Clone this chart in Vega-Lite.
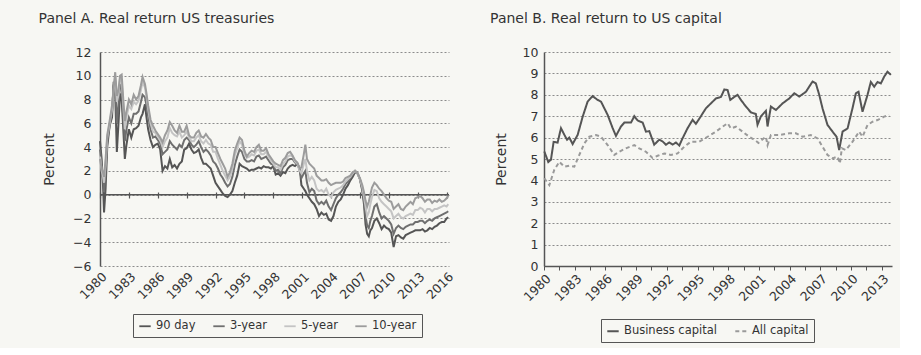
{
  "$schema": "https://vega.github.io/schema/vega-lite/v6.json",
  "background": "#f7f7f3",
  "padding": {"left": 38, "top": 12, "right": 5, "bottom": 5},
  "spacing": 34,
  "resolve": {"scale": {"color": "independent", "strokeDash": "independent"}, "legend": {"color": "independent", "strokeDash": "independent"}},
  "config": {
    "font": "DejaVu Sans",
    "view": {"stroke": null},
    "axis": {"labelFont": "DejaVu Sans", "labelFontSize": 12.5, "labelColor": "#333333", "titleFont": "DejaVu Sans", "titleFontSize": 14, "titleFontWeight": "normal", "titleColor": "#333333", "gridColor": "#8c8c8c", "gridDash": [2, 2], "gridWidth": 1, "domainColor": "#555555", "tickColor": "#555555", "labelOverlap": false},
    "legend": {"labelFont": "DejaVu Sans"},
    "title": {"font": "DejaVu Sans", "fontSize": 14, "fontWeight": "normal", "color": "#333333", "anchor": "start", "frame": "bounds", "offset": 20, "dx": -4}
  },
  "hconcat": [
    {
      "title": "Panel A. Real return US treasuries",
      "width": 349,
      "height": 214,
      "resolve": {"axis": {"x": "independent"}},
      "layer": [
        {
          "data": {"values": [{}]},
          "mark": {"type": "rule", "color": "#555555", "strokeWidth": 1.5},
          "encoding": {
            "y": {"datum": 0, "type": "quantitative", "scale": {"domain": [-6, 12], "nice": false, "zero": false},
                  "axis": {"title": "Percent", "values": [-6, -4, -2, 0, 2, 4, 6, 8, 10, 12], "labelOverlap": false, "grid": true, "ticks": false, "domain": true, "domainWidth": 1.5, "labelPadding": 9, "titlePadding": 16}},
            "x": {"datum": 1980, "type": "quantitative", "scale": {"domain": [1980, 2016.25], "nice": false, "zero": false}, "axis": {"orient": "bottom", "offset": -74, "values": [1980, 1983, 1986, 1989, 1992, 1995, 1998, 2001, 2004, 2007, 2010, 2013, 2016], "labels": false, "ticks": true, "tickSize": 6, "tickWidth": 1.2, "domain": false, "grid": false, "title": null}},
            "x2": {"datum": 2016.25}
          }
        },
        {
          "data": {"values": [
            {"t": 1980.00, "90 day": 4.5, "3-year": 3.8, "5-year": 3.2, "10-year": 3.0},
            {"t": 1980.17, "90 day": 3.0, "3-year": 2.5, "5-year": 2.0, "10-year": 2.2},
            {"t": 1980.33, "90 day": 0.5, "3-year": 1.2, "5-year": 1.5, "10-year": 1.8},
            {"t": 1980.42, "90 day": -1.5, "3-year": 0.2, "5-year": 1.0, "10-year": 1.5},
            {"t": 1980.58, "90 day": 0.5, "3-year": 1.8, "5-year": 2.5, "10-year": 3.0},
            {"t": 1980.75, "90 day": 4.0, "3-year": 4.5, "5-year": 4.8, "10-year": 5.0},
            {"t": 1981.00, "90 day": 5.8, "3-year": 5.8, "5-year": 6.0, "10-year": 6.2},
            {"t": 1981.25, "90 day": 6.5, "3-year": 7.0, "5-year": 7.2, "10-year": 7.5},
            {"t": 1981.42, "90 day": 9.5, "3-year": 9.2, "5-year": 8.8, "10-year": 9.0},
            {"t": 1981.58, "90 day": 8.5, "3-year": 9.6, "5-year": 9.9, "10-year": 10.3},
            {"t": 1981.75, "90 day": 3.6, "3-year": 6.0, "5-year": 7.8, "10-year": 8.3},
            {"t": 1981.92, "90 day": 6.0, "3-year": 7.5, "5-year": 8.4, "10-year": 8.8},
            {"t": 1982.08, "90 day": 8.5, "3-year": 9.3, "5-year": 9.8, "10-year": 10.0},
            {"t": 1982.25, "90 day": 8.0, "3-year": 9.0, "5-year": 9.6, "10-year": 10.1},
            {"t": 1982.42, "90 day": 5.5, "3-year": 6.5, "5-year": 7.5, "10-year": 8.0},
            {"t": 1982.58, "90 day": 3.0, "3-year": 4.5, "5-year": 5.5, "10-year": 6.2},
            {"t": 1982.75, "90 day": 4.2, "3-year": 5.5, "5-year": 6.5, "10-year": 7.0},
            {"t": 1983.00, "90 day": 5.5, "3-year": 6.5, "5-year": 7.5, "10-year": 8.0},
            {"t": 1983.25, "90 day": 4.8, "3-year": 6.0, "5-year": 7.2, "10-year": 7.6},
            {"t": 1983.50, "90 day": 5.5, "3-year": 6.8, "5-year": 7.8, "10-year": 8.4},
            {"t": 1983.75, "90 day": 5.6, "3-year": 6.8, "5-year": 7.6, "10-year": 8.0},
            {"t": 1984.00, "90 day": 5.8, "3-year": 7.0, "5-year": 7.9, "10-year": 8.3},
            {"t": 1984.25, "90 day": 6.5, "3-year": 7.8, "5-year": 8.8, "10-year": 9.2},
            {"t": 1984.42, "90 day": 6.8, "3-year": 8.4, "5-year": 9.5, "10-year": 9.9},
            {"t": 1984.67, "90 day": 7.6, "3-year": 8.2, "5-year": 9.0, "10-year": 9.3},
            {"t": 1984.83, "90 day": 6.5, "3-year": 7.5, "5-year": 8.2, "10-year": 8.5},
            {"t": 1985.00, "90 day": 5.5, "3-year": 6.6, "5-year": 7.2, "10-year": 7.5},
            {"t": 1985.25, "90 day": 4.6, "3-year": 5.5, "5-year": 6.0, "10-year": 6.3},
            {"t": 1985.50, "90 day": 4.0, "3-year": 4.8, "5-year": 5.3, "10-year": 5.8},
            {"t": 1985.75, "90 day": 4.2, "3-year": 4.9, "5-year": 5.2, "10-year": 5.4},
            {"t": 1986.00, "90 day": 4.3, "3-year": 4.6, "5-year": 4.9, "10-year": 5.1},
            {"t": 1986.25, "90 day": 3.8, "3-year": 4.3, "5-year": 4.6, "10-year": 4.8},
            {"t": 1986.50, "90 day": 2.0, "3-year": 3.4, "5-year": 4.0, "10-year": 4.4},
            {"t": 1986.75, "90 day": 2.4, "3-year": 3.6, "5-year": 4.5, "10-year": 5.0},
            {"t": 1987.00, "90 day": 2.2, "3-year": 3.8, "5-year": 4.8, "10-year": 5.4},
            {"t": 1987.25, "90 day": 3.0, "3-year": 4.5, "5-year": 5.6, "10-year": 6.1},
            {"t": 1987.50, "90 day": 2.3, "3-year": 4.2, "5-year": 5.2, "10-year": 5.8},
            {"t": 1987.75, "90 day": 2.5, "3-year": 4.0, "5-year": 5.0, "10-year": 5.4},
            {"t": 1988.00, "90 day": 2.2, "3-year": 3.8, "5-year": 4.9, "10-year": 5.2},
            {"t": 1988.25, "90 day": 2.6, "3-year": 4.2, "5-year": 5.3, "10-year": 5.8},
            {"t": 1988.50, "90 day": 2.8, "3-year": 4.0, "5-year": 4.8, "10-year": 5.3},
            {"t": 1988.75, "90 day": 3.8, "3-year": 4.6, "5-year": 5.0, "10-year": 5.3},
            {"t": 1989.00, "90 day": 3.9, "3-year": 4.8, "5-year": 5.3, "10-year": 5.8},
            {"t": 1989.25, "90 day": 4.3, "3-year": 4.6, "5-year": 4.8, "10-year": 5.0},
            {"t": 1989.50, "90 day": 3.8, "3-year": 4.2, "5-year": 4.5, "10-year": 4.8},
            {"t": 1989.75, "90 day": 3.5, "3-year": 4.0, "5-year": 4.5, "10-year": 4.8},
            {"t": 1990.00, "90 day": 3.6, "3-year": 4.2, "5-year": 4.8, "10-year": 5.2},
            {"t": 1990.25, "90 day": 3.8, "3-year": 4.5, "5-year": 5.0, "10-year": 5.4},
            {"t": 1990.50, "90 day": 3.1, "3-year": 4.0, "5-year": 4.5, "10-year": 4.9},
            {"t": 1990.75, "90 day": 2.6, "3-year": 3.6, "5-year": 4.3, "10-year": 4.8},
            {"t": 1991.00, "90 day": 2.6, "3-year": 3.8, "5-year": 4.6, "10-year": 5.1},
            {"t": 1991.25, "90 day": 2.4, "3-year": 3.6, "5-year": 4.3, "10-year": 4.8},
            {"t": 1991.50, "90 day": 2.2, "3-year": 3.3, "5-year": 4.2, "10-year": 4.6},
            {"t": 1991.75, "90 day": 1.6, "3-year": 2.8, "5-year": 3.6, "10-year": 4.0},
            {"t": 1992.00, "90 day": 1.0, "3-year": 2.6, "5-year": 3.6, "10-year": 4.0},
            {"t": 1992.25, "90 day": 0.7, "3-year": 2.2, "5-year": 3.0, "10-year": 3.5},
            {"t": 1992.50, "90 day": 0.4, "3-year": 1.7, "5-year": 2.5, "10-year": 3.0},
            {"t": 1992.75, "90 day": 0.1, "3-year": 1.4, "5-year": 2.0, "10-year": 2.6},
            {"t": 1993.00, "90 day": -0.1, "3-year": 1.0, "5-year": 1.6, "10-year": 2.2},
            {"t": 1993.25, "90 day": -0.2, "3-year": 0.7, "5-year": 1.2, "10-year": 1.5},
            {"t": 1993.50, "90 day": 0.0, "3-year": 0.9, "5-year": 1.5, "10-year": 1.9},
            {"t": 1993.75, "90 day": 0.3, "3-year": 1.5, "5-year": 2.2, "10-year": 2.6},
            {"t": 1994.00, "90 day": 1.0, "3-year": 2.5, "5-year": 3.3, "10-year": 3.7},
            {"t": 1994.25, "90 day": 1.6, "3-year": 3.2, "5-year": 3.9, "10-year": 4.3},
            {"t": 1994.50, "90 day": 2.6, "3-year": 3.8, "5-year": 4.5, "10-year": 4.8},
            {"t": 1994.75, "90 day": 2.4, "3-year": 3.6, "5-year": 4.2, "10-year": 4.6},
            {"t": 1995.00, "90 day": 2.3, "3-year": 3.0, "5-year": 3.4, "10-year": 3.7},
            {"t": 1995.25, "90 day": 2.2, "3-year": 2.8, "5-year": 3.1, "10-year": 3.2},
            {"t": 1995.50, "90 day": 2.0, "3-year": 2.8, "5-year": 3.2, "10-year": 3.5},
            {"t": 1995.75, "90 day": 2.1, "3-year": 2.9, "5-year": 3.4, "10-year": 3.7},
            {"t": 1996.00, "90 day": 2.1, "3-year": 2.8, "5-year": 3.3, "10-year": 3.6},
            {"t": 1996.25, "90 day": 2.2, "3-year": 3.2, "5-year": 3.7, "10-year": 4.0},
            {"t": 1996.50, "90 day": 2.3, "3-year": 3.3, "5-year": 3.8, "10-year": 4.2},
            {"t": 1996.75, "90 day": 2.2, "3-year": 3.0, "5-year": 3.4, "10-year": 3.7},
            {"t": 1997.00, "90 day": 2.4, "3-year": 3.1, "5-year": 3.4, "10-year": 3.7},
            {"t": 1997.25, "90 day": 2.3, "3-year": 3.2, "5-year": 3.6, "10-year": 3.9},
            {"t": 1997.50, "90 day": 2.3, "3-year": 2.9, "5-year": 3.2, "10-year": 3.4},
            {"t": 1997.75, "90 day": 2.2, "3-year": 2.6, "5-year": 2.9, "10-year": 3.1},
            {"t": 1998.00, "90 day": 2.4, "3-year": 2.5, "5-year": 2.6, "10-year": 2.8},
            {"t": 1998.25, "90 day": 1.7, "3-year": 2.0, "5-year": 2.3, "10-year": 2.6},
            {"t": 1998.50, "90 day": 1.8, "3-year": 2.1, "5-year": 2.3, "10-year": 2.5},
            {"t": 1998.75, "90 day": 1.6, "3-year": 1.8, "5-year": 2.1, "10-year": 2.4},
            {"t": 1999.00, "90 day": 1.9, "3-year": 2.3, "5-year": 2.6, "10-year": 2.9},
            {"t": 1999.25, "90 day": 1.8, "3-year": 2.5, "5-year": 2.8, "10-year": 3.1},
            {"t": 1999.50, "90 day": 2.2, "3-year": 2.9, "5-year": 3.2, "10-year": 3.5},
            {"t": 1999.75, "90 day": 2.4, "3-year": 3.0, "5-year": 3.3, "10-year": 3.6},
            {"t": 2000.00, "90 day": 2.5, "3-year": 3.0, "5-year": 3.2, "10-year": 3.3},
            {"t": 2000.25, "90 day": 2.4, "3-year": 2.7, "5-year": 2.8, "10-year": 2.9},
            {"t": 2000.50, "90 day": 2.6, "3-year": 2.6, "5-year": 2.6, "10-year": 2.7},
            {"t": 2000.75, "90 day": 2.2, "3-year": 2.0, "5-year": 2.0, "10-year": 2.2},
            {"t": 2000.92, "90 day": 0.8, "3-year": 1.4, "5-year": 1.8, "10-year": 2.3},
            {"t": 2001.17, "90 day": 0.5, "3-year": 1.8, "5-year": 2.6, "10-year": 3.4},
            {"t": 2001.33, "90 day": 0.3, "3-year": 2.0, "5-year": 3.0, "10-year": 4.2},
            {"t": 2001.50, "90 day": 0.0, "3-year": 1.0, "5-year": 2.0, "10-year": 3.0},
            {"t": 2001.75, "90 day": -0.3, "3-year": 0.2, "5-year": 1.2, "10-year": 2.6},
            {"t": 2002.00, "90 day": -0.6, "3-year": 0.5, "5-year": 1.5, "10-year": 2.4},
            {"t": 2002.25, "90 day": -0.8, "3-year": 0.3, "5-year": 1.2, "10-year": 2.2},
            {"t": 2002.50, "90 day": -1.2, "3-year": -0.5, "5-year": 0.5, "10-year": 1.6},
            {"t": 2002.75, "90 day": -1.8, "3-year": -0.8, "5-year": 0.3, "10-year": 1.4},
            {"t": 2003.00, "90 day": -1.5, "3-year": -0.6, "5-year": 0.4, "10-year": 1.2},
            {"t": 2003.25, "90 day": -1.7, "3-year": -0.8, "5-year": 0.2, "10-year": 1.2},
            {"t": 2003.50, "90 day": -1.6, "3-year": -0.5, "5-year": 0.5, "10-year": 1.3},
            {"t": 2003.75, "90 day": -2.1, "3-year": -1.0, "5-year": 0.0, "10-year": 1.0},
            {"t": 2004.00, "90 day": -2.2, "3-year": -1.3, "5-year": -0.2, "10-year": 0.8},
            {"t": 2004.25, "90 day": -1.8, "3-year": -0.8, "5-year": 0.2, "10-year": 0.9},
            {"t": 2004.50, "90 day": -1.0, "3-year": -0.3, "5-year": 0.4, "10-year": 1.0},
            {"t": 2004.75, "90 day": -0.6, "3-year": 0.0, "5-year": 0.5, "10-year": 1.0},
            {"t": 2005.00, "90 day": -0.4, "3-year": 0.2, "5-year": 0.6, "10-year": 1.0},
            {"t": 2005.25, "90 day": 0.0, "3-year": 0.5, "5-year": 0.8, "10-year": 1.1},
            {"t": 2005.50, "90 day": 0.5, "3-year": 0.9, "5-year": 1.1, "10-year": 1.4},
            {"t": 2005.75, "90 day": 0.8, "3-year": 1.1, "5-year": 1.3, "10-year": 1.5},
            {"t": 2006.00, "90 day": 1.2, "3-year": 1.4, "5-year": 1.5, "10-year": 1.6},
            {"t": 2006.25, "90 day": 1.5, "3-year": 1.7, "5-year": 1.8, "10-year": 1.9},
            {"t": 2006.50, "90 day": 1.9, "3-year": 2.0, "5-year": 2.0, "10-year": 2.0},
            {"t": 2006.75, "90 day": 1.8, "3-year": 1.8, "5-year": 1.8, "10-year": 1.8},
            {"t": 2007.00, "90 day": 1.3, "3-year": 1.3, "5-year": 1.3, "10-year": 1.4},
            {"t": 2007.25, "90 day": 0.3, "3-year": 0.5, "5-year": 0.6, "10-year": 0.8},
            {"t": 2007.42, "90 day": -0.8, "3-year": -0.5, "5-year": -0.2, "10-year": 0.2},
            {"t": 2007.58, "90 day": -2.5, "3-year": -1.8, "5-year": -1.0, "10-year": -0.5},
            {"t": 2007.75, "90 day": -3.3, "3-year": -2.6, "5-year": -1.8, "10-year": -1.0},
            {"t": 2007.92, "90 day": -3.5, "3-year": -2.8, "5-year": -1.5, "10-year": -0.6},
            {"t": 2008.08, "90 day": -3.0, "3-year": -2.2, "5-year": -0.8, "10-year": 0.0},
            {"t": 2008.25, "90 day": -2.8, "3-year": -1.8, "5-year": -0.2, "10-year": 0.6},
            {"t": 2008.50, "90 day": -2.2, "3-year": -1.0, "5-year": 0.4, "10-year": 1.0},
            {"t": 2008.75, "90 day": -2.0, "3-year": -0.8, "5-year": 0.3, "10-year": 0.8},
            {"t": 2009.00, "90 day": -2.4, "3-year": -1.5, "5-year": -0.3, "10-year": 0.5},
            {"t": 2009.25, "90 day": -2.9, "3-year": -2.0, "5-year": -0.6, "10-year": 0.3},
            {"t": 2009.50, "90 day": -2.6, "3-year": -1.8, "5-year": -0.8, "10-year": 0.0},
            {"t": 2009.75, "90 day": -2.8, "3-year": -2.0, "5-year": -1.0, "10-year": -0.3},
            {"t": 2010.00, "90 day": -2.9, "3-year": -2.2, "5-year": -1.2, "10-year": -0.5},
            {"t": 2010.25, "90 day": -3.2, "3-year": -2.5, "5-year": -1.4, "10-year": -0.6},
            {"t": 2010.50, "90 day": -4.4, "3-year": -3.3, "5-year": -2.0, "10-year": -1.2},
            {"t": 2010.75, "90 day": -3.5, "3-year": -2.8, "5-year": -1.8, "10-year": -1.0},
            {"t": 2011.00, "90 day": -3.4, "3-year": -2.6, "5-year": -1.6, "10-year": -0.8},
            {"t": 2011.25, "90 day": -3.6, "3-year": -2.8, "5-year": -1.9, "10-year": -1.2},
            {"t": 2011.50, "90 day": -3.7, "3-year": -2.9, "5-year": -2.0, "10-year": -1.3},
            {"t": 2011.75, "90 day": -3.4, "3-year": -2.7, "5-year": -1.8, "10-year": -1.0},
            {"t": 2012.00, "90 day": -3.3, "3-year": -2.6, "5-year": -1.7, "10-year": -0.8},
            {"t": 2012.25, "90 day": -3.2, "3-year": -2.5, "5-year": -1.6, "10-year": -0.6},
            {"t": 2012.50, "90 day": -3.1, "3-year": -2.5, "5-year": -1.7, "10-year": -0.8},
            {"t": 2012.75, "90 day": -3.0, "3-year": -2.3, "5-year": -1.3, "10-year": -0.3},
            {"t": 2013.00, "90 day": -3.0, "3-year": -2.3, "5-year": -1.3, "10-year": -0.2},
            {"t": 2013.25, "90 day": -3.0, "3-year": -2.2, "5-year": -1.1, "10-year": -0.1},
            {"t": 2013.50, "90 day": -2.9, "3-year": -2.2, "5-year": -1.2, "10-year": -0.3},
            {"t": 2013.75, "90 day": -3.1, "3-year": -2.4, "5-year": -1.5, "10-year": -0.6},
            {"t": 2014.00, "90 day": -3.0, "3-year": -2.2, "5-year": -1.2, "10-year": -0.4},
            {"t": 2014.25, "90 day": -2.8, "3-year": -2.1, "5-year": -1.2, "10-year": -0.4},
            {"t": 2014.50, "90 day": -2.9, "3-year": -2.2, "5-year": -1.4, "10-year": -0.7},
            {"t": 2014.75, "90 day": -2.7, "3-year": -2.0, "5-year": -1.2, "10-year": -0.5},
            {"t": 2015.00, "90 day": -2.6, "3-year": -1.9, "5-year": -1.2, "10-year": -0.6},
            {"t": 2015.25, "90 day": -2.4, "3-year": -1.8, "5-year": -1.1, "10-year": -0.4},
            {"t": 2015.50, "90 day": -2.3, "3-year": -1.7, "5-year": -1.0, "10-year": -0.6},
            {"t": 2015.75, "90 day": -2.3, "3-year": -1.6, "5-year": -0.9, "10-year": -0.5},
            {"t": 2016.00, "90 day": -2.0, "3-year": -1.5, "5-year": -1.0, "10-year": -0.3},
            {"t": 2016.17, "90 day": -1.9, "3-year": -1.4, "5-year": -0.8, "10-year": -0.1}
          ]},
          "transform": [{"fold": ["90 day", "3-year", "5-year", "10-year"], "as": ["series", "value"]}],
          "mark": {"type": "line", "strokeWidth": 2},
          "encoding": {
            "x": {"field": "t", "type": "quantitative", "scale": {"domain": [1980, 2016.25], "nice": false, "zero": false},
                  "axis": {"orient": "bottom", "values": [1980, 1983, 1986, 1989, 1992, 1995, 1998, 2001, 2004, 2007, 2010, 2013, 2016], "format": "d", "labelAngle": -45, "labelPadding": 4, "grid": false, "ticks": false, "domain": false, "title": null}},
            "y": {"field": "value", "type": "quantitative", "scale": {"domain": [-6, 12], "nice": false, "zero": false},
                  "axis": {"title": "Percent", "values": [-6, -4, -2, 0, 2, 4, 6, 8, 10, 12], "labelOverlap": false, "grid": true, "ticks": false, "domain": true, "domainWidth": 1.5, "labelPadding": 9, "titlePadding": 16}},
            "color": {"field": "series", "type": "nominal", "sort": ["90 day", "3-year", "5-year", "10-year"],
                      "scale": {"domain": ["90 day", "3-year", "5-year", "10-year"], "range": ["#555555", "#6f6f6f", "#c4c4c4", "#9c9c9c"]},
                      "legend": {"title": null, "orient": "none", "legendX": 33, "legendY": 262, "direction": "horizontal", "symbolType": "stroke", "symbolStrokeWidth": 1.8, "symbolSize": 130, "strokeColor": "#555555", "padding": 5, "labelFontSize": 11.5, "labelColor": "#333333", "columnPadding": 13, "labelOffset": 4}}
          }
        }
      ]
    },
    {
      "title": "Panel B. Real return to US capital",
      "width": 348,
      "height": 214,
      "data": {"values": [
        {"s": "Business capital", "t": 1980.03, "v": 5.35},
        {"s": "Business capital", "t": 1980.42, "v": 4.86},
        {"s": "Business capital", "t": 1980.68, "v": 4.97},
        {"s": "Business capital", "t": 1980.94, "v": 5.8},
        {"s": "Business capital", "t": 1981.33, "v": 5.77},
        {"s": "Business capital", "t": 1981.66, "v": 6.44},
        {"s": "Business capital", "t": 1981.99, "v": 6.13},
        {"s": "Business capital", "t": 1982.25, "v": 5.9},
        {"s": "Business capital", "t": 1982.47, "v": 6.0},
        {"s": "Business capital", "t": 1982.8, "v": 5.7},
        {"s": "Business capital", "t": 1983.29, "v": 6.13},
        {"s": "Business capital", "t": 1983.78, "v": 6.98},
        {"s": "Business capital", "t": 1984.26, "v": 7.68},
        {"s": "Business capital", "t": 1984.75, "v": 7.94},
        {"s": "Business capital", "t": 1985.24, "v": 7.76},
        {"s": "Business capital", "t": 1985.57, "v": 7.68},
        {"s": "Business capital", "t": 1986.22, "v": 7.06},
        {"s": "Business capital", "t": 1986.71, "v": 6.44},
        {"s": "Business capital", "t": 1987.03, "v": 6.08},
        {"s": "Business capital", "t": 1987.52, "v": 6.52},
        {"s": "Business capital", "t": 1987.85, "v": 6.7},
        {"s": "Business capital", "t": 1988.5, "v": 6.7},
        {"s": "Business capital", "t": 1988.82, "v": 7.0},
        {"s": "Business capital", "t": 1989.15, "v": 6.8},
        {"s": "Business capital", "t": 1989.64, "v": 6.7},
        {"s": "Business capital", "t": 1989.96, "v": 6.28},
        {"s": "Business capital", "t": 1990.29, "v": 6.3},
        {"s": "Business capital", "t": 1990.77, "v": 5.67},
        {"s": "Business capital", "t": 1991.26, "v": 5.9},
        {"s": "Business capital", "t": 1991.59, "v": 5.82},
        {"s": "Business capital", "t": 1991.91, "v": 5.67},
        {"s": "Business capital", "t": 1992.24, "v": 5.77},
        {"s": "Business capital", "t": 1992.57, "v": 5.67},
        {"s": "Business capital", "t": 1992.89, "v": 5.77},
        {"s": "Business capital", "t": 1993.22, "v": 5.63},
        {"s": "Business capital", "t": 1993.54, "v": 5.97},
        {"s": "Business capital", "t": 1994.03, "v": 6.44},
        {"s": "Business capital", "t": 1994.52, "v": 6.83},
        {"s": "Business capital", "t": 1994.84, "v": 6.64},
        {"s": "Business capital", "t": 1995.33, "v": 7.0},
        {"s": "Business capital", "t": 1995.82, "v": 7.37},
        {"s": "Business capital", "t": 1996.31, "v": 7.6},
        {"s": "Business capital", "t": 1996.8, "v": 7.83},
        {"s": "Business capital", "t": 1997.29, "v": 7.9},
        {"s": "Business capital", "t": 1997.62, "v": 8.25},
        {"s": "Business capital", "t": 1997.94, "v": 8.22},
        {"s": "Business capital", "t": 1998.2, "v": 7.76},
        {"s": "Business capital", "t": 1998.59, "v": 7.9},
        {"s": "Business capital", "t": 1998.91, "v": 8.0},
        {"s": "Business capital", "t": 1999.24, "v": 7.76},
        {"s": "Business capital", "t": 1999.73, "v": 7.45},
        {"s": "Business capital", "t": 2000.21, "v": 7.18},
        {"s": "Business capital", "t": 2000.7, "v": 7.1},
        {"s": "Business capital", "t": 2000.86, "v": 6.6},
        {"s": "Business capital", "t": 2001.2, "v": 7.0},
        {"s": "Business capital", "t": 2001.68, "v": 7.25},
        {"s": "Business capital", "t": 2001.84, "v": 6.52},
        {"s": "Business capital", "t": 2002.17, "v": 7.45},
        {"s": "Business capital", "t": 2002.66, "v": 7.29},
        {"s": "Business capital", "t": 2003.31, "v": 7.6},
        {"s": "Business capital", "t": 2003.96, "v": 7.83},
        {"s": "Business capital", "t": 2004.45, "v": 8.07},
        {"s": "Business capital", "t": 2004.94, "v": 7.92},
        {"s": "Business capital", "t": 2005.59, "v": 8.14},
        {"s": "Business capital", "t": 2005.91, "v": 8.38},
        {"s": "Business capital", "t": 2006.24, "v": 8.62},
        {"s": "Business capital", "t": 2006.56, "v": 8.53},
        {"s": "Business capital", "t": 2006.89, "v": 8.0},
        {"s": "Business capital", "t": 2007.21, "v": 7.37},
        {"s": "Business capital", "t": 2007.7, "v": 6.59},
        {"s": "Business capital", "t": 2008.19, "v": 6.28},
        {"s": "Business capital", "t": 2008.58, "v": 6.04},
        {"s": "Business capital", "t": 2008.84, "v": 5.42},
        {"s": "Business capital", "t": 2009.17, "v": 6.28},
        {"s": "Business capital", "t": 2009.66, "v": 6.43},
        {"s": "Business capital", "t": 2010.14, "v": 7.37},
        {"s": "Business capital", "t": 2010.47, "v": 8.07},
        {"s": "Business capital", "t": 2010.73, "v": 8.14},
        {"s": "Business capital", "t": 2011.12, "v": 7.21},
        {"s": "Business capital", "t": 2011.61, "v": 8.0},
        {"s": "Business capital", "t": 2011.93, "v": 8.6},
        {"s": "Business capital", "t": 2012.26, "v": 8.38},
        {"s": "Business capital", "t": 2012.59, "v": 8.6},
        {"s": "Business capital", "t": 2012.91, "v": 8.53},
        {"s": "Business capital", "t": 2013.24, "v": 8.85},
        {"s": "Business capital", "t": 2013.56, "v": 9.08},
        {"s": "Business capital", "t": 2013.89, "v": 8.93},
        {"s": "All capital", "t": 1980.03, "v": 4.1},
        {"s": "All capital", "t": 1980.52, "v": 3.78},
        {"s": "All capital", "t": 1981.0, "v": 4.49},
        {"s": "All capital", "t": 1981.5, "v": 4.87},
        {"s": "All capital", "t": 1981.98, "v": 4.64},
        {"s": "All capital", "t": 1982.47, "v": 4.69},
        {"s": "All capital", "t": 1982.96, "v": 4.64},
        {"s": "All capital", "t": 1983.45, "v": 5.19},
        {"s": "All capital", "t": 1983.94, "v": 5.73},
        {"s": "All capital", "t": 1984.43, "v": 6.04},
        {"s": "All capital", "t": 1985.08, "v": 6.12},
        {"s": "All capital", "t": 1985.57, "v": 6.04},
        {"s": "All capital", "t": 1986.22, "v": 5.65},
        {"s": "All capital", "t": 1986.87, "v": 5.19},
        {"s": "All capital", "t": 1987.35, "v": 5.34},
        {"s": "All capital", "t": 1988.0, "v": 5.5},
        {"s": "All capital", "t": 1988.82, "v": 5.65},
        {"s": "All capital", "t": 1989.3, "v": 5.5},
        {"s": "All capital", "t": 1989.96, "v": 5.34},
        {"s": "All capital", "t": 1990.6, "v": 5.05},
        {"s": "All capital", "t": 1991.1, "v": 5.15},
        {"s": "All capital", "t": 1991.75, "v": 5.26},
        {"s": "All capital", "t": 1992.4, "v": 5.19},
        {"s": "All capital", "t": 1993.05, "v": 5.26},
        {"s": "All capital", "t": 1993.7, "v": 5.57},
        {"s": "All capital", "t": 1994.36, "v": 5.81},
        {"s": "All capital", "t": 1995.17, "v": 5.81},
        {"s": "All capital", "t": 1995.98, "v": 6.04},
        {"s": "All capital", "t": 1996.8, "v": 6.28},
        {"s": "All capital", "t": 1997.45, "v": 6.51},
        {"s": "All capital", "t": 1997.94, "v": 6.67},
        {"s": "All capital", "t": 1998.26, "v": 6.43},
        {"s": "All capital", "t": 1998.75, "v": 6.51},
        {"s": "All capital", "t": 1999.4, "v": 6.28},
        {"s": "All capital", "t": 2000.05, "v": 6.04},
        {"s": "All capital", "t": 2000.7, "v": 5.85},
        {"s": "All capital", "t": 2000.95, "v": 5.75},
        {"s": "All capital", "t": 2001.45, "v": 5.96},
        {"s": "All capital", "t": 2001.68, "v": 6.04},
        {"s": "All capital", "t": 2001.84, "v": 5.65},
        {"s": "All capital", "t": 2002.17, "v": 6.12},
        {"s": "All capital", "t": 2002.98, "v": 6.12},
        {"s": "All capital", "t": 2003.96, "v": 6.2},
        {"s": "All capital", "t": 2004.61, "v": 6.2},
        {"s": "All capital", "t": 2005.26, "v": 6.04},
        {"s": "All capital", "t": 2006.07, "v": 6.12},
        {"s": "All capital", "t": 2006.73, "v": 5.96},
        {"s": "All capital", "t": 2007.22, "v": 5.57},
        {"s": "All capital", "t": 2007.7, "v": 5.19},
        {"s": "All capital", "t": 2008.19, "v": 5.03},
        {"s": "All capital", "t": 2008.68, "v": 5.11},
        {"s": "All capital", "t": 2008.91, "v": 4.8},
        {"s": "All capital", "t": 2009.1, "v": 5.5},
        {"s": "All capital", "t": 2009.49, "v": 5.42},
        {"s": "All capital", "t": 2010.15, "v": 5.81},
        {"s": "All capital", "t": 2010.79, "v": 6.28},
        {"s": "All capital", "t": 2011.12, "v": 6.04},
        {"s": "All capital", "t": 2011.61, "v": 6.59},
        {"s": "All capital", "t": 2012.1, "v": 6.74},
        {"s": "All capital", "t": 2012.59, "v": 6.82},
        {"s": "All capital", "t": 2013.23, "v": 6.98},
        {"s": "All capital", "t": 2013.72, "v": 7.06}
      ]},
      "mark": {"type": "line", "strokeWidth": 2},
      "encoding": {
        "x": {"field": "t", "type": "quantitative", "scale": {"domain": [1980, 2014], "nice": false, "zero": false},
              "axis": {"values": [1980, 1981.5, 1983, 1984.5, 1986, 1987.5, 1989, 1990.5, 1992, 1993.5, 1995, 1996.5, 1998, 1999.5, 2001, 2002.5, 2004, 2005.5, 2007, 2008.5, 2010, 2011.5, 2013], "format": "d", "labelExpr": "datum.value % 3 == 0 ? datum.label : ''", "labelAngle": -45, "grid": false, "domain": true, "domainWidth": 1.5, "tickSize": 4, "labelPadding": 2, "title": null}},
        "y": {"field": "v", "type": "quantitative", "scale": {"domain": [0, 10], "nice": false, "zero": false},
              "axis": {"title": "Percent", "values": [0, 1, 2, 3, 4, 5, 6, 7, 8, 9, 10], "grid": true, "ticks": false, "domain": true, "domainWidth": 1.5, "labelPadding": 6, "titlePadding": 14}},
        "color": {"field": "s", "type": "nominal", "sort": ["Business capital", "All capital"],
                  "scale": {"domain": ["Business capital", "All capital"], "range": ["#555555", "#9a9a9a"]},
                  "legend": {"title": null, "orient": "none", "legendX": 57, "legendY": 267, "direction": "horizontal", "symbolType": "stroke", "symbolStrokeWidth": 1.8, "symbolSize": 130, "strokeColor": "#555555", "padding": 5, "labelFontSize": 11.5, "labelColor": "#333333", "columnPadding": 14, "labelOffset": 4}},
        "strokeDash": {"field": "s", "type": "nominal", "sort": ["Business capital", "All capital"],
                  "scale": {"domain": ["Business capital", "All capital"], "range": [[1, 0], [4, 3]]},
                  "legend": {"title": null, "orient": "none", "legendX": 57, "legendY": 267, "direction": "horizontal", "symbolType": "stroke", "symbolStrokeWidth": 1.8, "symbolSize": 130, "strokeColor": "#555555", "padding": 5, "labelFontSize": 11.5, "labelColor": "#333333", "columnPadding": 14, "labelOffset": 4}}
      }
    }
  ]
}
